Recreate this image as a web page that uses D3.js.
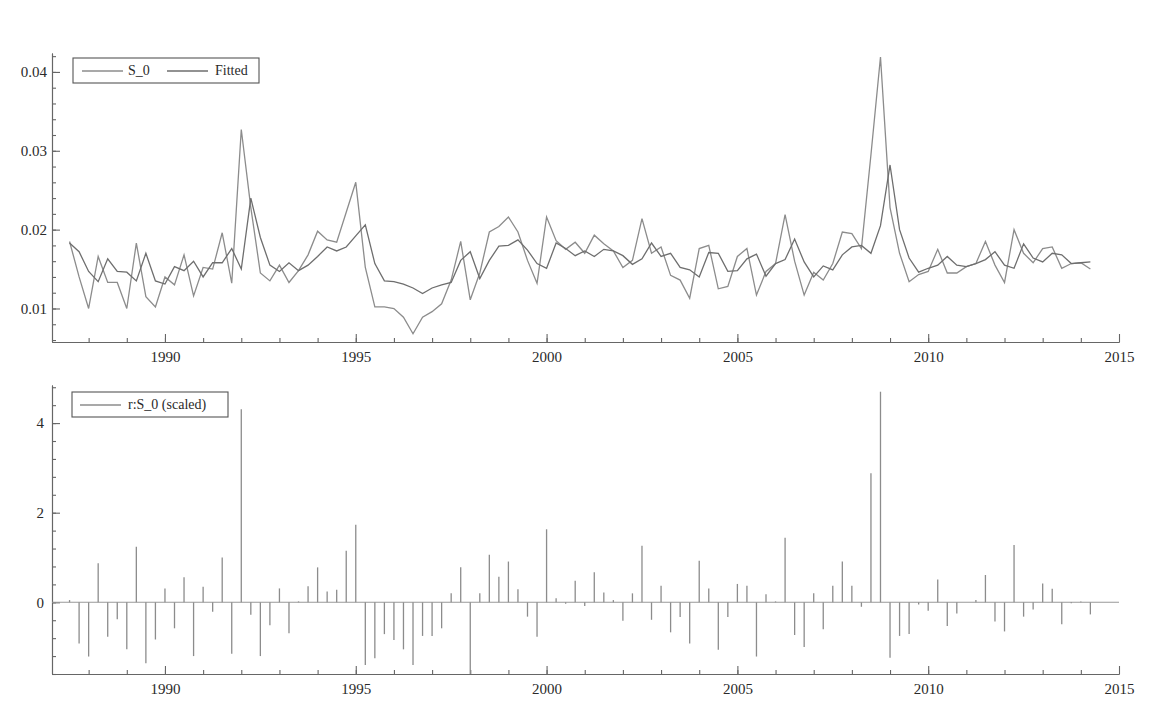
<!DOCTYPE html>
<html>
<head>
<meta charset="utf-8">
<script src="https://cdn.jsdelivr.net/npm/d3@7/dist/d3.min.js"></script>
<style>
  body { margin: 0; background: #fff; }
  svg { display: block; }
  .tick text { font-family: "Liberation Serif", "DejaVu Serif", serif; font-size: 15px; fill: #2a2a2a; }
  .axis path, .axis line { stroke: #666; stroke-width: 1.1; }
  .legend text { font-family: "Liberation Serif", "DejaVu Serif", serif; font-size: 14px; fill: #2a2a2a; }
</style>
</head>
<body>
<svg width="1165" height="713"></svg>
<script>
// quarterly sample 1987Q3 - 2014Q2
const startYear = 1987.5;

const s0 = [
  0.0185, 0.0140, 0.0100, 0.0166, 0.0133, 0.0133, 0.0100, 0.0183, 0.0115, 0.0102,
  0.0140, 0.0130, 0.0168, 0.0116, 0.0152, 0.0150, 0.0196, 0.0132, 0.0327, 0.0228,
  0.0145, 0.0135, 0.0155, 0.0133, 0.0148, 0.0168, 0.0198, 0.0187, 0.0184, 0.0222,
  0.0260, 0.0152, 0.0102, 0.0102, 0.0100, 0.0089, 0.0068, 0.0089, 0.0096, 0.0106,
  0.0136, 0.0185, 0.0111, 0.0145, 0.0197, 0.0204, 0.0216, 0.0197, 0.0161, 0.0132,
  0.0216, 0.0186, 0.0175, 0.0184, 0.0170, 0.0193, 0.0182, 0.0173, 0.0152, 0.0161,
  0.0214, 0.0170, 0.0178, 0.0142, 0.0136, 0.0113, 0.0176, 0.0180, 0.0125, 0.0128,
  0.0166, 0.0176, 0.0117, 0.0147, 0.0157, 0.0219, 0.0160, 0.0117, 0.0146, 0.0136,
  0.0157, 0.0197, 0.0195, 0.0176, 0.0295, 0.0419, 0.0228, 0.0170, 0.0134, 0.0143,
  0.0147, 0.0175, 0.0145, 0.0145, 0.0153, 0.0157, 0.0185, 0.0155, 0.0133, 0.0200,
  0.0170, 0.0158, 0.0176, 0.0178, 0.0151, 0.0157, 0.0158, 0.0150
];

const fitted = [
  0.0183, 0.0172, 0.0147, 0.0134, 0.0163, 0.0147, 0.0146, 0.0135, 0.0170, 0.0135,
  0.0131, 0.0153, 0.0148, 0.0160, 0.0140, 0.0158, 0.0158, 0.0176, 0.0150, 0.0240,
  0.0190, 0.0155, 0.0147, 0.0158, 0.0148, 0.0155, 0.0166, 0.0178, 0.0173, 0.0178,
  0.0192, 0.0206, 0.0157, 0.0135, 0.0134, 0.0131, 0.0126, 0.0119, 0.0126, 0.0130,
  0.0133, 0.0161, 0.0172, 0.0138, 0.0161, 0.0179, 0.0180, 0.0187, 0.0174, 0.0157,
  0.0151, 0.0183, 0.0176, 0.0167, 0.0173, 0.0166, 0.0175, 0.0173, 0.0167, 0.0156,
  0.0163, 0.0183, 0.0166, 0.0170, 0.0152, 0.0149, 0.0140, 0.0171, 0.0170, 0.0147,
  0.0148, 0.0163, 0.0169, 0.0141, 0.0157, 0.0162, 0.0188, 0.0159, 0.0140, 0.0154,
  0.0149, 0.0168, 0.0178, 0.0180, 0.0170, 0.0205, 0.0282, 0.0200, 0.0164, 0.0146,
  0.0151, 0.0155, 0.0166, 0.0155, 0.0153, 0.0157, 0.0162, 0.0172, 0.0155, 0.0151,
  0.0182, 0.0164, 0.0159, 0.0170, 0.0168, 0.0157, 0.0158, 0.0159
];

const resid = [
   0.05, -0.92, -1.21,  0.87, -0.77, -0.38, -1.05,  1.24, -1.36, -0.83,
   0.31, -0.58,  0.56, -1.20,  0.35, -0.21,  1.00, -1.15,  4.31, -0.28,
  -1.20, -0.51,  0.31, -0.69,  0.02,  0.36,  0.78,  0.24,  0.28,  1.15,
   1.73, -1.40, -1.25, -0.71, -0.84, -1.05, -1.40, -0.75, -0.75, -0.58,
   0.20,  0.78, -1.60,  0.20,  1.06,  0.57,  0.91,  0.29, -0.32, -0.77,
   1.63,  0.09, -0.03,  0.48, -0.08,  0.67,  0.22,  0.05, -0.41,  0.20,
   1.26, -0.39,  0.37, -0.67, -0.33, -0.92,  0.93,  0.31, -1.06, -0.33,
   0.41,  0.37, -1.21,  0.18,  0.02,  1.44, -0.73, -1.00,  0.20, -0.60,
   0.37,  0.91,  0.37, -0.10,  2.88,  4.70, -1.24, -0.75, -0.71, -0.05,
  -0.19,  0.51, -0.53, -0.25,  0.00,  0.05,  0.61, -0.43, -0.65,  1.28,
  -0.32, -0.16,  0.42,  0.30, -0.49, -0.02,  0.02, -0.27
];

const yearTicks = [1990, 1995, 2000, 2005, 2010, 2015];
const topTicks = [0.01, 0.02, 0.03, 0.04];
const bottomTicks = [0, 2, 4];

const dates = s0.map((d, i) => startYear + i / 4);

const svg = d3.select("svg");
const left = 52, right = 1119;

const x = d3.scaleLinear().domain([1987.04, 2015]).range([left, right]);
const yTop = d3.scaleLinear().domain([0.00575, 0.0424]).range([342, 53]);
const yBot = d3.scaleLinear().domain([-1.6, 4.85]).range([674, 385]);

function drawPanel(y, yTicks, minorStep, labelPad, fmt) {
  const y0 = y.range()[0];
  const minorYears = d3.range(1988, 2015, 1);

  svg.append("g").attr("class", "axis")
    .attr("transform", `translate(0,${y0})`)
    .call(d3.axisBottom(x).tickValues(minorYears).tickSize(-4).tickSizeOuter(0).tickFormat(""));

  svg.append("g").attr("class", "axis")
    .attr("transform", `translate(0,${y0})`)
    .call(d3.axisBottom(x).tickValues(yearTicks).tickSize(-8).tickSizeOuter(0).tickPadding(9).tickFormat(d3.format("d")));

  const [lo, hi] = y.domain();
  const minorY = d3.range(Math.ceil(lo / minorStep) * minorStep, hi, minorStep);
  svg.append("g").attr("class", "axis")
    .attr("transform", `translate(${left},0)`)
    .call(d3.axisLeft(y).tickValues(minorY).tickSize(-4).tickSizeOuter(0).tickFormat(""));

  svg.append("g").attr("class", "axis")
    .attr("transform", `translate(${left},0)`)
    .call(d3.axisLeft(y).tickValues(yTicks).tickSize(-8).tickSizeOuter(0).tickPadding(labelPad).tickFormat(fmt));
}

drawPanel(yTop, topTicks, 0.002, 5, d3.format(".2f"));
drawPanel(yBot, bottomTicks, 0.4, 8, d3.format("d"));

// top panel lines
const line = d3.line().x((d, i) => x(dates[i])).y(d => yTop(d));

svg.append("path").datum(s0)
  .attr("fill", "none").attr("stroke", "#8c8c8c").attr("stroke-width", 1.3)
  .attr("d", line);

svg.append("path").datum(fitted)
  .attr("fill", "none").attr("stroke", "#6e6e6e").attr("stroke-width", 1.3)
  .attr("d", line);

// bottom panel: zero line + spikes
svg.append("line")
  .attr("x1", left).attr("x2", right)
  .attr("y1", yBot(0)).attr("y2", yBot(0))
  .attr("stroke", "#999").attr("stroke-width", 1.1);

svg.append("g").selectAll("line")
  .data(resid)
  .enter()
  .append("line")
  .attr("x1", (d, i) => x(dates[i])).attr("x2", (d, i) => x(dates[i]))
  .attr("y1", yBot(0)).attr("y2", d => yBot(d))
  .attr("stroke", "#8c8c8c").attr("stroke-width", 1.3);

// legends
function legend(x0, y0, w, items) {
  const g = svg.append("g").attr("class", "legend");
  g.append("rect").attr("x", x0).attr("y", y0).attr("width", w).attr("height", 25)
    .attr("fill", "#fff").attr("stroke", "#555").attr("stroke-width", 1.1);
  items.forEach(it => {
    g.append("line").attr("x1", it.lx).attr("x2", it.lx + 41)
      .attr("y1", y0 + 13).attr("y2", y0 + 13)
      .attr("stroke", it.color).attr("stroke-width", 1.3);
    g.append("text").attr("x", it.tx).attr("y", y0 + 17).text(it.label);
  });
}

legend(73, 58, 186, [
  { lx: 82, tx: 128, label: "S_0", color: "#8c8c8c" },
  { lx: 167, tx: 215, label: "Fitted", color: "#6e6e6e" }
]);

legend(72, 392, 156, [
  { lx: 80, tx: 128, label: "r:S_0 (scaled)", color: "#8c8c8c" }
]);
</script>
</body>
</html>
